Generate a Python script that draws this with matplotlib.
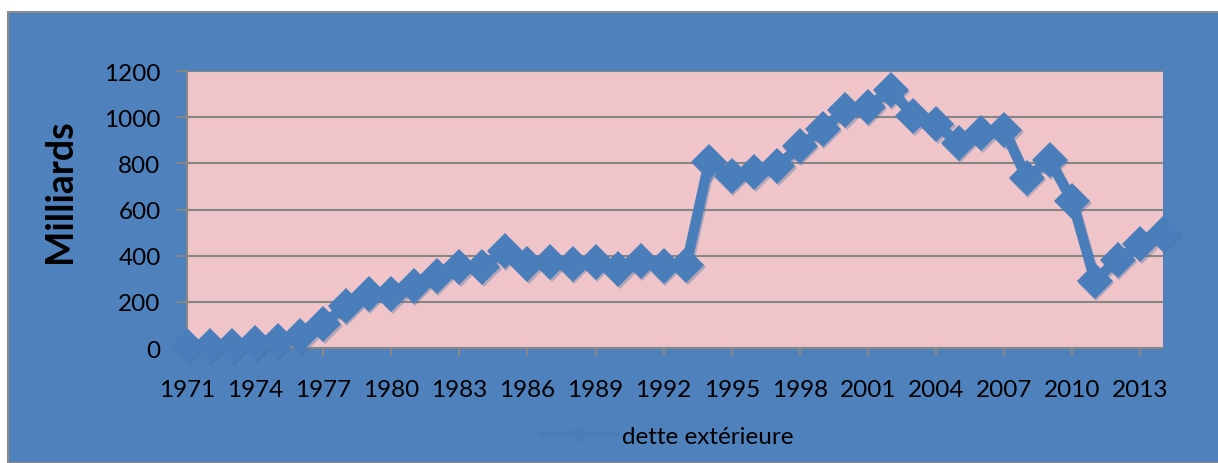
import matplotlib
matplotlib.use("Agg")
import matplotlib.pyplot as plt
import matplotlib.transforms as mtransforms
from matplotlib.patches import Rectangle
from matplotlib.lines import Line2D

years = list(range(1971, 2015))
dette = [10, 10, 8, 22, 32, 53, 104, 183, 234, 232, 270, 313, 350, 350, 422,
         364, 371, 364, 374, 342, 378, 357, 360, 807, 745, 761, 787, 873, 949,
         1031, 1043, 1119, 1007, 971, 887, 932, 946, 735, 816, 638, 292, 383,
         451, 494]
tick_years = list(range(1971, 2014, 3))
y_ticks = [0, 200, 400, 600, 800, 1000, 1200]
series_label = "dette extérieure"
y_label = "Milliards"

plt.rcParams['font.family'] = ['Lato', 'DejaVu Sans']

BLUE = '#4F81BD'
LINE = '#4A7EBB'
PINK = '#EFC5C9'
GRID = '#878787'

W, H = 1218, 464
fig = plt.figure(figsize=(W / 100, H / 100), dpi=100)
fig.patch.set_facecolor('white')
fig.patches.append(Rectangle((8 / W, 0), 1 - 8 / W + 0.01, 1 - 13 / H,
                             transform=fig.transFigure, facecolor=BLUE,
                             edgecolor='#8C8C8C', linewidth=1.5, zorder=-10))

ax = fig.add_axes([187 / W, 1 - 349 / H, (1163 - 187) / W, (349 - 72) / H])
ax.set_zorder(2)
ax.set_facecolor(PINK)
x = list(range(len(years)))
shadow = ax.transData + mtransforms.ScaledTranslation(1.5 / 100, -2 / 100, fig.dpi_scale_trans)
ax.plot(x, dette, color='#3E6A9E', alpha=0.35, linewidth=7.5, marker='D',
        markersize=18, markeredgewidth=0, zorder=3, clip_on=False, transform=shadow)
ax.plot(x, dette, color=LINE, linewidth=7.5, marker='D', markersize=18,
        markeredgewidth=0, zorder=4, clip_on=False)

ax.set_xlim(0, len(years) - 1)
ax.set_ylim(0, 1200)
ax.set_yticks(y_ticks)
ax.set_yticklabels([str(v) for v in y_ticks])
tick_pos = [years.index(t) for t in tick_years]
ax.set_xticks(tick_pos)
ax.set_xticklabels([str(t) for t in tick_years])
ax.grid(axis='y', color=GRID, linewidth=1.5, zorder=1)
ax.set_axisbelow(True)
for s in ['top', 'right']:
    ax.spines[s].set_visible(False)
for s in ['left', 'bottom']:
    ax.spines[s].set_color(GRID)
    ax.spines[s].set_linewidth(1.5)
ax.tick_params(axis='y', length=7, width=1.5, color=GRID, labelsize=17.5, pad=12, labelcolor='black')
ax.tick_params(axis='x', length=6, width=1.5, color=GRID, labelsize=17.5, pad=16, labelcolor='black')
ax.set_ylabel(y_label, fontsize=27, fontweight='bold')
ax.yaxis.set_label_coords(-0.113, 0.57)

handle = Line2D([], [], color='#4A7DB8', linewidth=4, marker='D', markersize=9,
                markerfacecolor='#4A7DB8', markeredgewidth=0)
fig.legend([handle], [series_label], loc='center', bbox_to_anchor=(668 / W, 1 - 437 / H),
           frameon=False, fontsize=17.5, handlelength=3.0, handletextpad=0.3)

fig.savefig('out.png', dpi=100, facecolor=fig.get_facecolor())
